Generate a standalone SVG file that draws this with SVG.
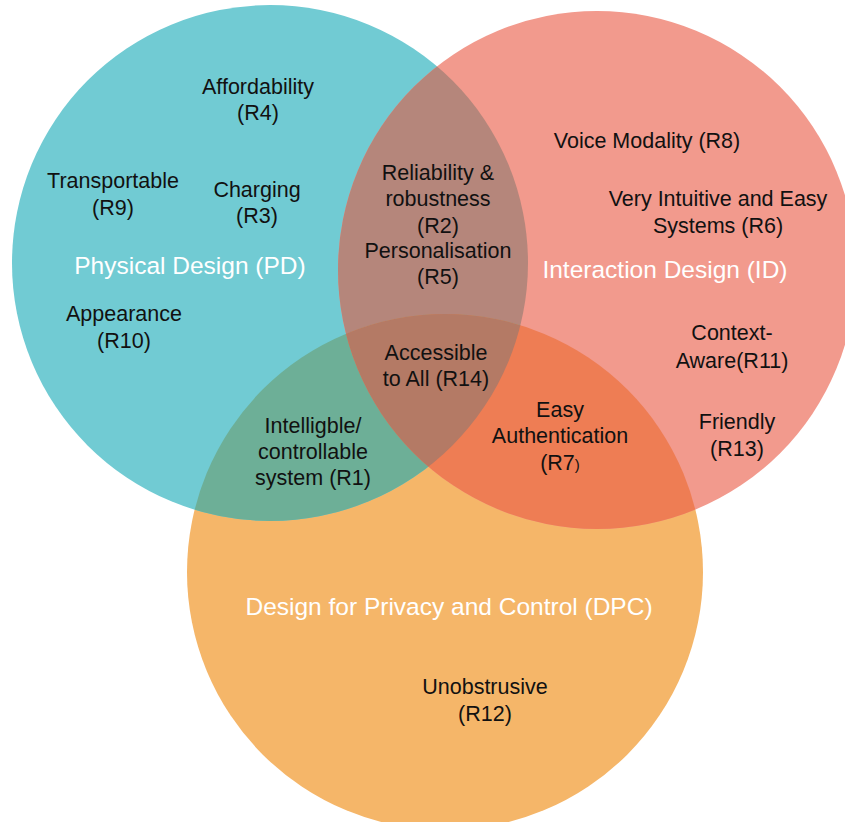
<svg xmlns="http://www.w3.org/2000/svg" width="845" height="822" viewBox="0 0 845 822">
<style>
.t{font-family:"Liberation Sans",Arial,sans-serif;font-size:21.5px;fill:#111;text-anchor:middle}
.h{font-family:"Liberation Sans",Arial,sans-serif;font-size:24.5px;fill:#fff;text-anchor:middle}
</style>
<defs>
<clipPath id="cT"><circle cx="270" cy="263" r="258"/></clipPath>
<clipPath id="cS"><circle cx="597" cy="270" r="259"/></clipPath>
<clipPath id="cO"><circle cx="445" cy="572" r="258"/></clipPath>
</defs>
<rect width="845" height="822" fill="#fff"/>
<g id="sets">
<circle id="dpc" cx="445" cy="572" r="258" fill="#F5B669"/>
<circle id="pd" cx="270" cy="263" r="258" fill="#71CBD3"/>
<circle id="id" cx="597" cy="270" r="259" fill="#F29A8D"/>
<circle cx="597" cy="270" r="259" fill="#B5867B" clip-path="url(#cT)"/>
<circle cx="445" cy="572" r="258" fill="#6DAF97" clip-path="url(#cT)"/>
<circle cx="445" cy="572" r="258" fill="#EE7D54" clip-path="url(#cS)"/>
<g clip-path="url(#cO)"><circle cx="597" cy="270" r="259" fill="#B47A65" clip-path="url(#cT)"/></g>
</g>
<g id="titles">
<text class="h" x="190" y="274">Physical Design (PD)</text>
<text class="h" x="665" y="278">Interaction Design (ID)</text>
<text class="h" x="449" y="615">Design for Privacy and Control (DPC)</text>
</g>
<g id="r4"><text class="t" x="258" y="94">Affordability</text><text class="t" x="258" y="120">(R4)</text></g>
<g id="r9"><text class="t" x="113" y="188">Transportable</text><text class="t" x="113" y="215">(R9)</text></g>
<g id="r3"><text class="t" x="257" y="197">Charging</text><text class="t" x="257" y="223">(R3)</text></g>
<g id="r10"><text class="t" x="124" y="321">Appearance</text><text class="t" x="124" y="348">(R10)</text></g>
<g id="r2r5"><text class="t" x="438" y="180">Reliability &amp;</text><text class="t" x="438" y="206">robustness</text><text class="t" x="438" y="233">(R2)</text><text class="t" x="438" y="258">Personalisation</text><text class="t" x="438" y="284">(R5)</text></g>
<g id="r8"><text class="t" x="647" y="148">Voice Modality (R8)</text></g>
<g id="r6"><text class="t" x="718" y="206">Very Intuitive and Easy</text><text class="t" x="718" y="233">Systems (R6)</text></g>
<g id="r11"><text class="t" x="732" y="340">Context-</text><text class="t" x="732" y="368">Aware(R11)</text></g>
<g id="r14"><text class="t" x="436" y="360">Accessible</text><text class="t" x="436" y="386">to All (R14)</text></g>
<g id="r1"><text class="t" x="313" y="433">Intelligble/</text><text class="t" x="313" y="459">controllable</text><text class="t" x="313" y="485">system (R1)</text></g>
<g id="r7"><text class="t" x="560" y="417">Easy</text><text class="t" x="560" y="443">Authentication</text><text class="t" x="560" y="470">(R7<tspan font-size="15">)</tspan></text></g>
<g id="r13"><text class="t" x="737" y="429">Friendly</text><text class="t" x="737" y="456">(R13)</text></g>
<g id="r12"><text class="t" x="485" y="694">Unobstrusive</text><text class="t" x="485" y="721">(R12)</text></g>
<g id="connectors"/>
</svg>
